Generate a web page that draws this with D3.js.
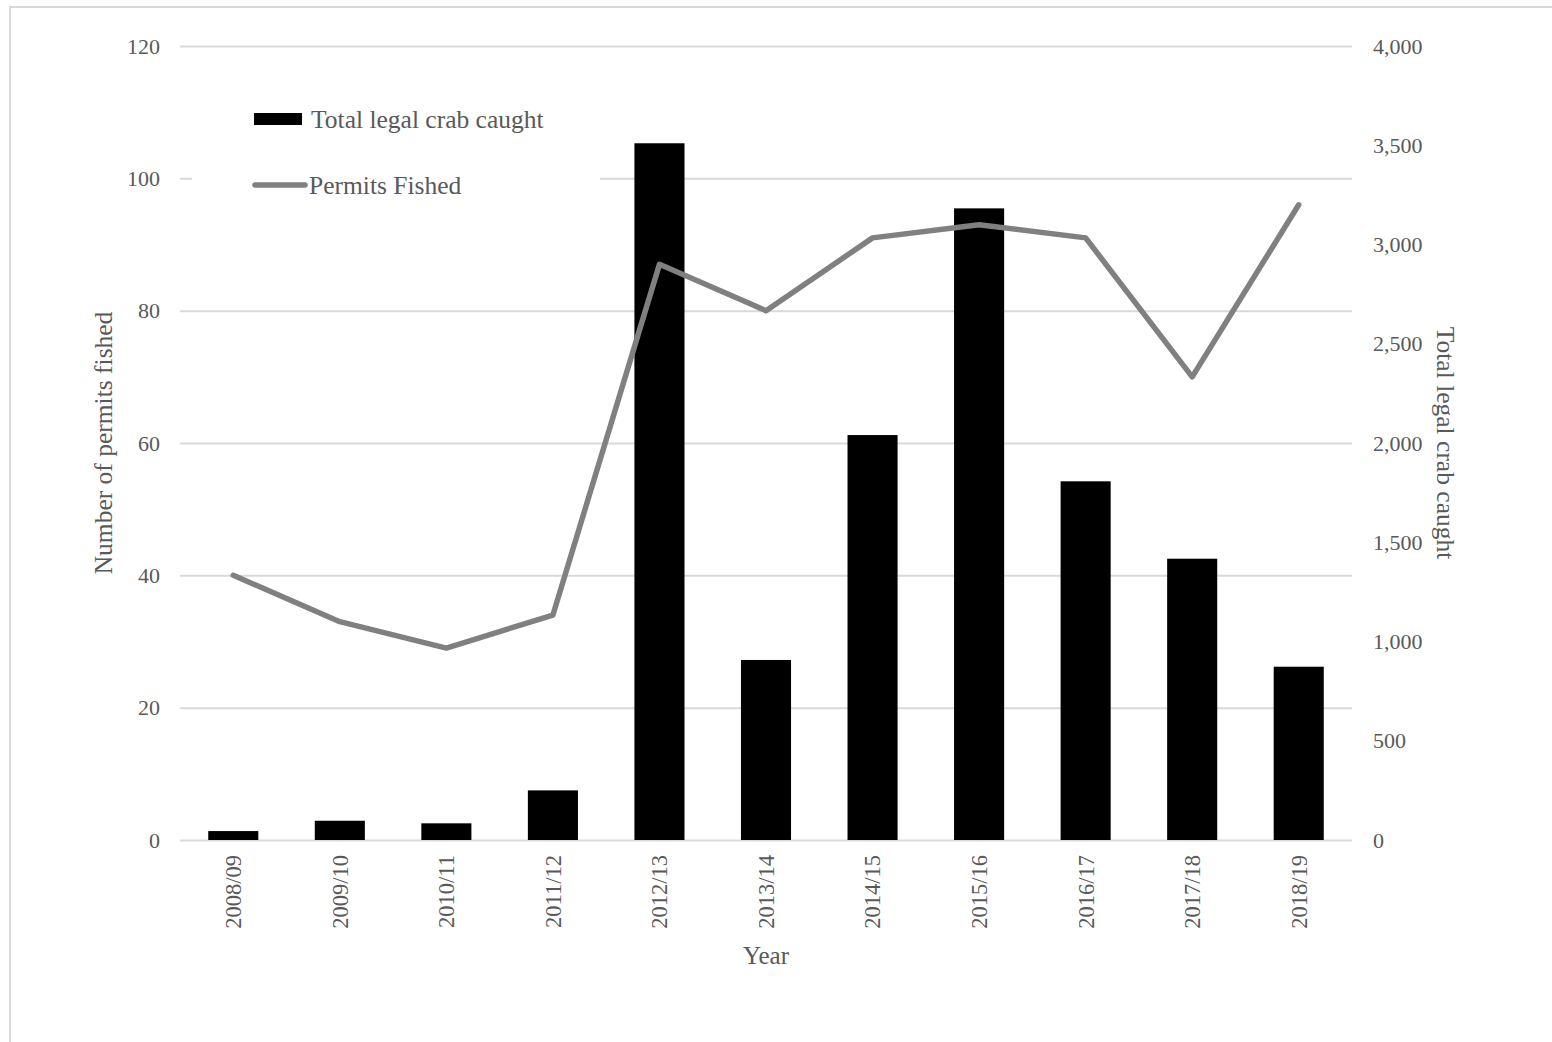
<!DOCTYPE html>
<html>
<head>
<meta charset="utf-8">
<script src="https://cdn.jsdelivr.net/npm/d3@7/dist/d3.min.js"></script>
<style>
  html, body { margin: 0; padding: 0; background: #fff; }
  svg { display: block; }
  text { font-family: "Liberation Serif", "Times New Roman", serif; fill: #595959; }
</style>
</head>
<body>
<svg id="chart" width="1552" height="1042"></svg>
<script>
const categories = ["2008/09","2009/10","2010/11","2011/12","2012/13","2013/14","2014/15","2015/16","2016/17","2017/18","2018/19"];
const crabCaught = [45, 97, 84, 250, 3510, 907, 2040, 3182, 1807, 1417, 873];
const permitsFished = [40, 33, 29, 34, 87, 80, 91, 93, 91, 70, 96];
const leftTicks = [0, 20, 40, 60, 80, 100, 120];
const rightTicks = [0, 500, 1000, 1500, 2000, 2500, 3000, 3500, 4000];
const seriesNames = ["Total legal crab caught", "Permits Fished"];

const svg = d3.select("#chart");
const plot = { left: 180, right: 1352, top: 46, bottom: 840 };

// outer border
svg.append("rect").attr("x", 10).attr("y", 7).attr("width", 1600).attr("height", 1100)
  .attr("fill", "none").attr("stroke", "#d9d9d9").attr("stroke-width", 2);

const x = d3.scaleBand().domain(categories).range([plot.left, plot.right])
  .paddingInner(0.53).paddingOuter(0.265);
const yL = d3.scaleLinear().domain([0, 120]).range([plot.bottom, plot.top]);
const yR = d3.scaleLinear().domain([0, 4000]).range([plot.bottom, plot.top]);

// gridlines
const grid = d3.axisLeft(yL).tickValues(leftTicks).tickSize(-(plot.right - plot.left)).tickFormat("");
const gG = svg.append("g").attr("transform", `translate(${plot.left},0)`).call(grid);
gG.select(".domain").remove();
gG.selectAll("line").attr("stroke", "#d9d9d9").attr("stroke-width", 2);

// left axis labels
const aL = svg.append("g").attr("transform", `translate(${plot.left},0)`)
  .call(d3.axisLeft(yL).tickValues(leftTicks).tickSize(0).tickPadding(20));
aL.select(".domain").remove();
aL.selectAll("text").attr("font-size", 22).attr("fill", "#595959")
  .attr("font-family", "Liberation Serif, serif");

// right axis labels
const aR = svg.append("g").attr("transform", `translate(${plot.right},0)`)
  .call(d3.axisRight(yR).tickValues(rightTicks).tickSize(0).tickPadding(21).tickFormat(d3.format(",")));
aR.select(".domain").remove();
aR.selectAll("text").attr("font-size", 22).attr("fill", "#595959")
  .attr("font-family", "Liberation Serif, serif");

// x axis labels
const aX = svg.append("g").attr("transform", `translate(0,${plot.bottom})`)
  .call(d3.axisBottom(x).tickSize(0));
aX.select(".domain").remove();
aX.selectAll("text").attr("font-size", 22.5).attr("fill", "#595959")
  .attr("font-family", "Liberation Serif, serif")
  .attr("transform", "rotate(-90)")
  .attr("text-anchor", "end").attr("dy", "0.35em").attr("dx", "-15").attr("y", 0).attr("x", 0);

// legend background box (covers gridline)
svg.append("rect").attr("x", 192).attr("y", 92).attr("width", 408).attr("height", 122).attr("fill", "#fff");

// bars
svg.append("g").selectAll("rect").data(crabCaught).join("rect")
  .attr("x", (d, i) => x(categories[i]))
  .attr("width", x.bandwidth())
  .attr("y", d => yR(d))
  .attr("height", d => yR(0) - yR(d))
  .attr("fill", "#000");

// line
const line = d3.line().x((d, i) => x(categories[i]) + x.bandwidth() / 2).y(d => yL(d));
svg.append("path").datum(permitsFished).attr("d", line)
  .attr("fill", "none").attr("stroke", "#808080").attr("stroke-width", 5.5)
  .attr("stroke-linejoin", "round").attr("stroke-linecap", "round");

// legend
svg.append("rect").attr("x", 254).attr("y", 113).attr("width", 48).attr("height", 12).attr("fill", "#000");
svg.append("text").attr("x", 311).attr("y", 127.5).attr("font-size", 25.5).text(seriesNames[0]);
svg.append("line").attr("x1", 255).attr("x2", 305).attr("y1", 185).attr("y2", 185)
  .attr("stroke", "#808080").attr("stroke-width", 5.5).attr("stroke-linecap", "round");
svg.append("text").attr("x", 309).attr("y", 193.5).attr("font-size", 25.5).text(seriesNames[1]);

// axis titles
svg.append("text").attr("transform", "translate(112,443) rotate(-90)")
  .attr("text-anchor", "middle").attr("font-size", 25.5).text("Number of permits fished");
svg.append("text").attr("transform", "translate(1437,443) rotate(90)")
  .attr("text-anchor", "middle").attr("font-size", 25.5).text("Total legal crab caught");
svg.append("text").attr("x", 766).attr("y", 964)
  .attr("text-anchor", "middle").attr("font-size", 25).text("Year");
</script>
</body>
</html>
